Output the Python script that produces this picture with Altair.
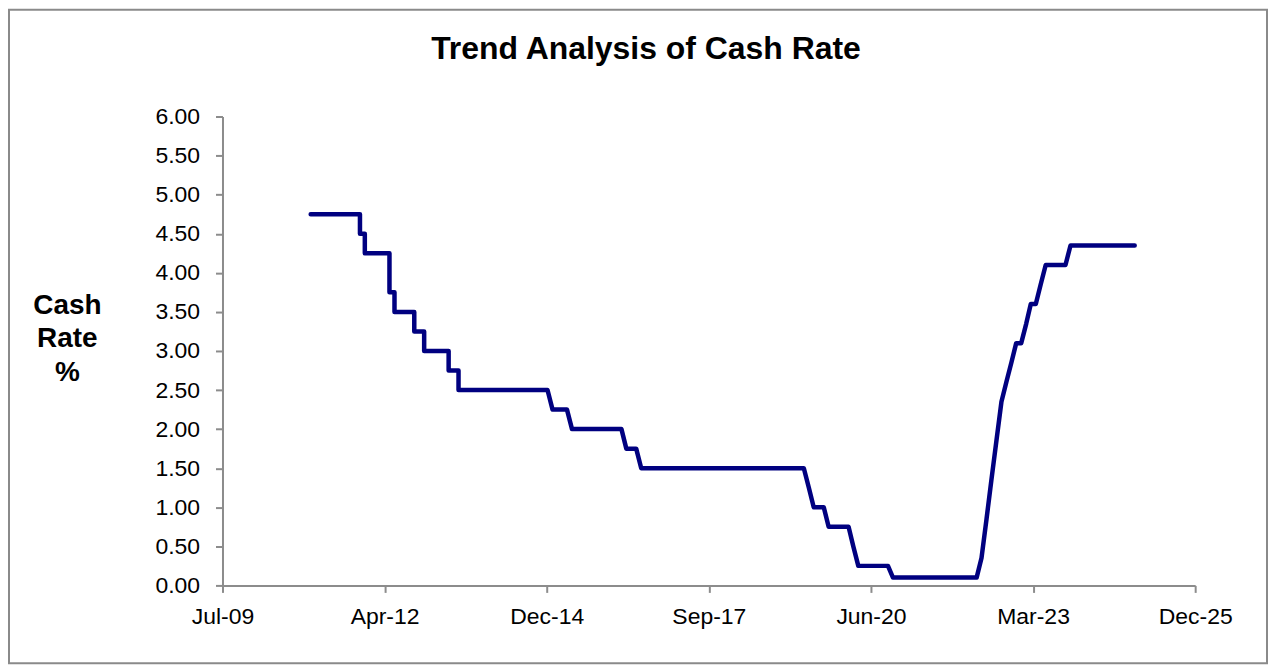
import altair as alt
import pandas as pd

# ---- data ----
dates = ["2011-01-01", "2011-11-01", "2011-11-01", "2011-12-01", "2011-12-01",
         "2012-05-01", "2012-05-01", "2012-06-01", "2012-06-01", "2012-10-01",
         "2012-10-01", "2012-12-01", "2012-12-01", "2013-05-01", "2013-05-01",
         "2013-07-01", "2013-07-01", "2015-01-01", "2015-02-01", "2015-05-01",
         "2015-06-01", "2016-04-01", "2016-05-01", "2016-07-01", "2016-08-01",
         "2019-05-01", "2019-06-01", "2019-07-01", "2019-09-01", "2019-10-01",
         "2020-02-01", "2020-03-01", "2020-04-01", "2020-10-01", "2020-11-01",
         "2022-04-01", "2022-05-01", "2022-06-01", "2022-07-01", "2022-08-01",
         "2022-09-01", "2022-10-01", "2022-11-01", "2022-12-01", "2023-01-01",
         "2023-02-01", "2023-03-01", "2023-04-01", "2023-05-01", "2023-06-01",
         "2023-10-01", "2023-11-01", "2024-12-01"]
rates = [4.75, 4.75, 4.50, 4.50, 4.25,
         4.25, 3.75, 3.75, 3.50, 3.50,
         3.25, 3.25, 3.00, 3.00, 2.75,
         2.75, 2.50, 2.50, 2.25, 2.25,
         2.00, 2.00, 1.75, 1.75, 1.50,
         1.50, 1.25, 1.00, 1.00, 0.75,
         0.75, 0.50, 0.25, 0.25, 0.10,
         0.10, 0.35, 0.85, 1.35, 1.85,
         2.35, 2.60, 2.85, 3.10, 3.10,
         3.35, 3.60, 3.60, 3.85, 4.10,
         4.10, 4.35, 4.35]

x_ticks = ["2009-07-06", "2012-04-01", "2014-12-27", "2017-09-22",
           "2020-06-18", "2023-03-15", "2025-12-09"]
y_ticks = [0, 0.5, 1, 1.5, 2, 2.5, 3, 3.5, 4, 4.5, 5, 5.5, 6]

title_text = "Trend Analysis  of Cash Rate"
y_title = ["Cash", "Rate", "%"]

FONT = "Liberation Sans, Arial, sans-serif"
W, H = 975, 470


def dt(s):
    y, m, d = (int(p) for p in s.split("-"))
    return alt.DateTime(year=y, month=m, date=d, utc=True)


df = pd.DataFrame({"date": dates, "rate": rates, "idx": list(range(len(dates)))})

line = alt.Chart(df).mark_line(
    color="#000080", strokeWidth=4.5, strokeCap="round", strokeJoin="round"
).encode(
    x=alt.X("date:T",
            scale=alt.Scale(type="utc", domain=[dt(x_ticks[0]), dt(x_ticks[-1])]),
            axis=alt.Axis(values=[dt(s) for s in x_ticks], format="%b-%y",
                          title=None, grid=False, labelFontSize=23,
                          labelFont=FONT, labelColor="#000000",
                          tickSize=7, labelPadding=13,
                          domainColor="#8c8c8c", domainWidth=2,
                          tickColor="#8c8c8c", tickWidth=2, labelFlush=False)),
    y=alt.Y("rate:Q",
            scale=alt.Scale(domain=[0, 6], nice=False, zero=True),
            axis=alt.Axis(values=y_ticks, format=".2f", title=y_title,
                          titleAngle=0, titleAlign="center", titleBaseline="alphabetic",
                          titleX=-156, titleY=197, titleLineHeight=34,
                          titleFontSize=28, titleFont=FONT, titleFontWeight="bold",
                          titleColor="#000000",
                          grid=False, labelFontSize=23, labelFont=FONT,
                          labelColor="#000000", tickSize=7, labelPadding=16,
                          domainColor="#8c8c8c", domainWidth=2,
                          tickColor="#8c8c8c", tickWidth=2)),
    order=alt.Order("idx:Q"),
)

one = pd.DataFrame({"t": [title_text]})

frame = alt.Chart(one).mark_rect(
    fill="white", fillOpacity=0, stroke="#8a8a8a", strokeWidth=2
).encode(
    x=alt.value(-214), x2=alt.value(1047), y=alt.value(-107), y2=alt.value(548)
)

title = alt.Chart(one).mark_text(
    font=FONT, fontSize=32, fontWeight="bold", color="#000000",
    align="center", baseline="alphabetic"
).encode(
    text="t:N", x=alt.value(424.5), y=alt.value(-58)
)

chart = alt.layer(frame, line, title).properties(
    width=W, height=H, padding=0, background="white"
).configure_view(strokeWidth=0)

chart.save("out.html", embed_options={"renderer": "svg", "actions": False})
